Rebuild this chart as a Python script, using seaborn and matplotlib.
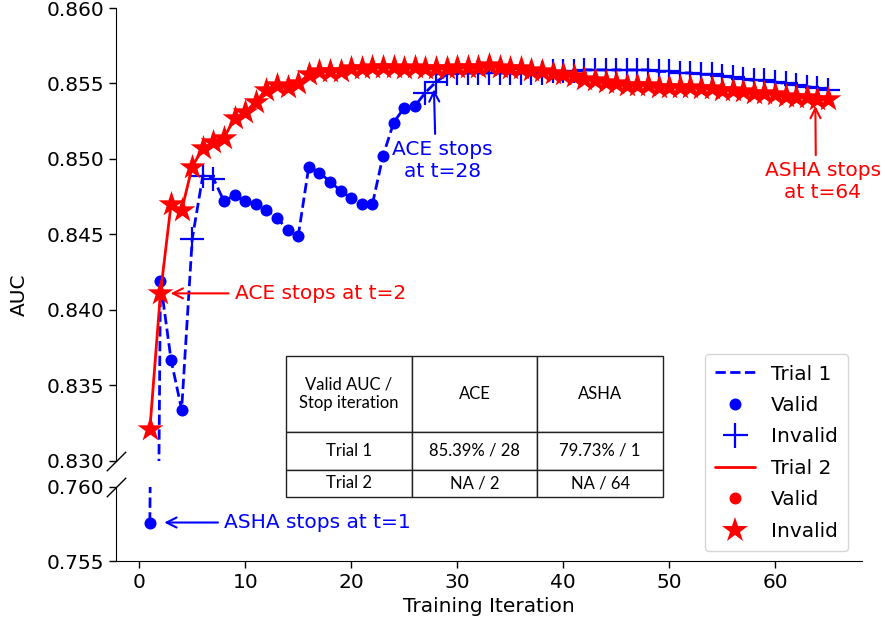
import matplotlib
matplotlib.use("Agg")
import matplotlib.pyplot as plt
from matplotlib.lines import Line2D
import numpy as np
import pandas as pd
import seaborn as sns

# data
iters = list(range(1, 66))
trial1_auc = [0.7576, 0.8419, 0.8367, 0.8334, 0.8447, 0.8489, 0.8487, 0.8472, 0.8476, 0.8472,
              0.8470, 0.8466, 0.8461, 0.8453, 0.8449, 0.8495, 0.8491, 0.8485, 0.8479, 0.8474,
              0.8470, 0.8470, 0.8502, 0.8524, 0.8534, 0.8535, 0.8544, 0.8551, 0.8556, 0.8557,
              0.8557, 0.8557, 0.8557, 0.8557, 0.8557, 0.8557, 0.8557, 0.8557, 0.8558, 0.8558,
              0.8558, 0.8559, 0.8559, 0.8559, 0.8559, 0.8559, 0.8559, 0.8559, 0.8558, 0.8558,
              0.8557, 0.8557, 0.8556, 0.8556, 0.8555, 0.8554, 0.8553, 0.8552, 0.8552, 0.8551,
              0.8550, 0.8549, 0.8548, 0.8547, 0.8546]
trial2_auc = [0.8321, 0.8411, 0.8470, 0.8466, 0.8495, 0.8507, 0.8511, 0.8514, 0.8527, 0.8531,
              0.8538, 0.8546, 0.8549, 0.8548, 0.8550, 0.8556, 0.8558, 0.8558, 0.8558, 0.8560,
              0.8560, 0.8561, 0.8561, 0.8561, 0.8560, 0.8561, 0.8560, 0.8560, 0.8560, 0.8561,
              0.8561, 0.8561, 0.8562, 0.8561, 0.8560, 0.8560, 0.8559, 0.8558, 0.8557, 0.8556,
              0.8555, 0.8553, 0.8552, 0.8551, 0.8550, 0.8549, 0.8549, 0.8549, 0.8548, 0.8548,
              0.8548, 0.8548, 0.8547, 0.8547, 0.8546, 0.8546, 0.8545, 0.8544, 0.8544, 0.8543,
              0.8542, 0.8541, 0.8541, 0.8540, 0.8540]
trial1_valid_iters = [1, 2, 3, 4] + list(range(8, 27))
trial2_valid_iters = []

table_header = ["Valid AUC /\nStop iteration", "ACE", "ASHA"]
table_rows = [["Trial 1", "85.39% / 28", "79.73% / 1"],
              ["Trial 2", "NA / 2", "NA / 64"]]

df1 = pd.DataFrame({"t": iters, "auc": trial1_auc})
df1["valid"] = df1["t"].isin(trial1_valid_iters)
df2 = pd.DataFrame({"t": iters, "auc": trial2_auc})
df2["valid"] = df2["t"].isin(trial2_valid_iters)

sns.set_style("ticks")
plt.rcParams["font.family"] = ["DejaVu Sans"]
plt.rcParams.update({"text.color": "black", "axes.labelcolor": "black",
                     "xtick.color": "black", "ytick.color": "black",
                     "axes.edgecolor": "black"})
FS = 14.5

fig = plt.figure(figsize=(8.85, 6.3), dpi=100)
ax_top = fig.add_axes([0.131, 0.2683, 0.843, 0.719])
ax_bot = fig.add_axes([0.131, 0.1095, 0.843, 0.1175], sharex=ax_top)

for ax in (ax_top, ax_bot):
    sns.lineplot(data=df1, x="t", y="auc", color="blue", linestyle="--", lw=2, zorder=2, ax=ax)
    sns.scatterplot(data=df1[df1.valid], x="t", y="auc", color="blue", marker="o", s=75,
                    linewidth=0, zorder=2.1, ax=ax)
    sns.scatterplot(data=df1[~df1.valid], x="t", y="auc", color="blue", marker="+", s=320,
                    linewidth=1.6, zorder=2.1, ax=ax)
    sns.lineplot(data=df2, x="t", y="auc", color="red", lw=2, zorder=2.2, ax=ax)
    sns.scatterplot(data=df2[~df2.valid], x="t", y="auc", color="red", marker="*", s=380,
                    linewidth=0, zorder=2.3, ax=ax)
    ax.set_xlabel("")
    ax.set_ylabel("")
    ax.tick_params(labelsize=FS, length=5, width=1, colors="black")
    sns.despine(ax=ax)

ax_top.set_ylim(0.830, 0.860)
ax_top.set_yticks(np.arange(0.830, 0.8601, 0.005))
ax_top.spines["bottom"].set_visible(False)
ax_top.tick_params(axis="x", bottom=False, labelbottom=False)
ax_top.yaxis.set_major_formatter(matplotlib.ticker.FormatStrFormatter("%.3f"))

ax_bot.set_ylim(0.755, 0.760)
ax_bot.set_yticks([0.755, 0.760])
ax_bot.yaxis.set_major_formatter(matplotlib.ticker.FormatStrFormatter("%.3f"))
ax_bot.set_xticks([0, 10, 20, 30, 40, 50, 60])
ax_bot.set_xlabel("Training Iteration", fontsize=FS)

# break marks
brk = dict(marker=[(-1, -1), (1, 1)], markersize=14, linestyle="none", color="k",
           mec="k", mew=1, clip_on=False)
ax_top.plot([0], [0], transform=ax_top.transAxes, **brk)
ax_bot.plot([0], [1], transform=ax_bot.transAxes, **brk)

fig.text(0.022, 0.532, "AUC", rotation=90, ha="center", va="center", fontsize=FS)

# annotations
arrow = dict(arrowstyle="->", lw=1.5, mutation_scale=18)
ax_top.annotate("ACE stops at t=2", xy=(2.7, 0.8411), xytext=(9.0, 0.8411), color="red",
                fontsize=FS, ha="left", va="center", arrowprops=dict(color="red", **arrow))
ax_bot.annotate("ASHA stops at t=1", xy=(2.1, 0.7576), xytext=(8.0, 0.7576), color="blue",
                fontsize=FS, ha="left", va="center", arrowprops=dict(color="blue", **arrow))
ax_top.annotate("ACE stops\nat t=28", xy=(27.8, 0.8548), xytext=(28.6, 0.8499), color="blue",
                fontsize=FS, ha="center", va="center", zorder=5,
                arrowprops=dict(color="blue", relpos=(0.43, 1.0), **arrow))
ax_top.annotate("ASHA stops\nat t=64", xy=(63.8, 0.8537), xytext=(64.5, 0.8485), color="red",
                fontsize=FS, ha="center", va="center", annotation_clip=False, zorder=5,
                arrowprops=dict(color="red", relpos=(0.44, 1.0), **arrow))

# legend
handles = [
    Line2D([], [], color="blue", ls="--", lw=2),
    Line2D([], [], color="blue", marker="o", ls="none", ms=8.6, mew=0),
    Line2D([], [], color="blue", marker="+", ls="none", ms=18, mew=1.6),
    Line2D([], [], color="red", ls="-", lw=2),
    Line2D([], [], color="red", marker="o", ls="none", ms=8.6, mew=0),
    Line2D([], [], color="red", marker="*", ls="none", ms=19, mew=0),
]
labels = ["Trial 1", "Valid", "Invalid", "Trial 2", "Valid", "Invalid"]
fig.legend(handles, labels, loc="lower right", bbox_to_anchor=(848 / 885, 1 - 551 / 630),
           borderaxespad=0, fontsize=FS, frameon=True, labelspacing=0.62, handletextpad=0.8,
           borderpad=0.5)

# table
tab_ax = fig.add_axes([286 / 885, 1 - 497 / 630, (663 - 286) / 885, (497 - 356) / 630])
tab_ax.axis("off")
tbl = tab_ax.table(cellText=[table_header] + table_rows, cellLoc="center",
                   bbox=[0, 0, 1, 1])
tbl.auto_set_font_size(False)
row_h = [76, 38, 27]
for (r, c), cell in tbl.get_celld().items():
    cell.set_height(row_h[r])
    cell.set_width(1)
    cell.set_linewidth(1)
    cell.set_edgecolor("#222222")
    cell.get_text().set_fontsize(12)
    cell.get_text().set_fontfamily("Lato")

fig.savefig("out.png", dpi=100)
